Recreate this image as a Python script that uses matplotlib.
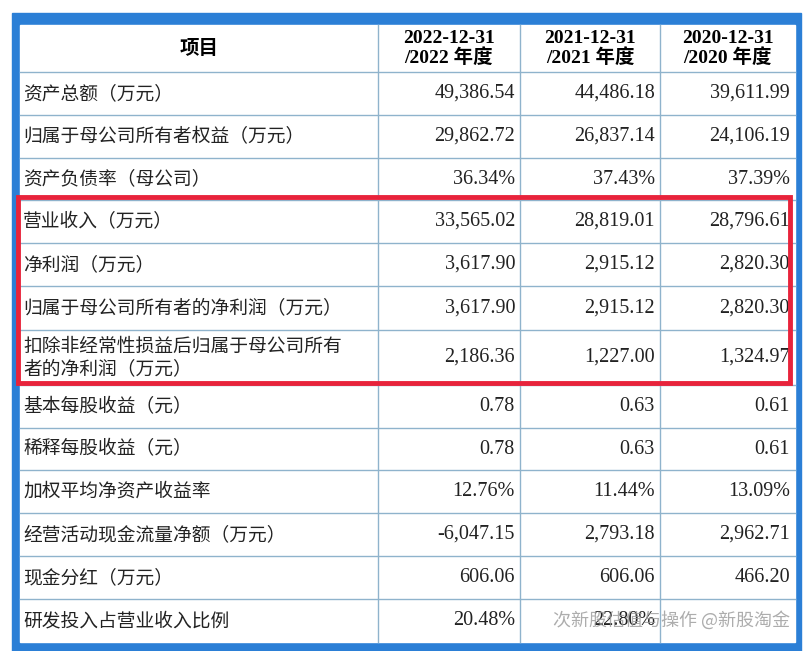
import matplotlib
matplotlib.use("Agg")
import matplotlib.pyplot as plt
from matplotlib.patches import Rectangle

header = ["项目", "2022-12-31\n/2022 年度", "2021-12-31\n/2021 年度", "2020-12-31\n/2020 年度"]
items = ["资产总额（万元）", "归属于母公司所有者权益（万元）", "资产负债率（母公司）",
         "营业收入（万元）", "净利润（万元）", "归属于母公司所有者的净利润（万元）",
         "扣除非经常性损益后归属于母公司所有\n者的净利润（万元）", "基本每股收益（元）",
         "稀释每股收益（元）", "加权平均净资产收益率", "经营活动现金流量净额（万元）",
         "现金分红（万元）", "研发投入占营业收入比例"]
v2022 = ["49,386.54", "29,862.72", "36.34%", "33,565.02", "3,617.90", "3,617.90", "2,186.36",
         "0.78", "0.78", "12.76%", "-6,047.15", "606.06", "20.48%"]
v2021 = ["44,486.18", "26,837.14", "37.43%", "28,819.01", "2,915.12", "2,915.12", "1,227.00",
         "0.63", "0.63", "11.44%", "2,793.18", "606.06", "22.80%"]
v2020 = ["39,611.99", "24,106.19", "37.39%", "28,796.61", "2,820.30", "2,820.30", "1,324.97",
         "0.61", "0.61", "13.09%", "2,962.71", "466.20", ""]

fam = ['Liberation Serif', 'Noto Sans CJK SC']
fig = plt.figure(figsize=(8.07, 6.51), dpi=100)
ax = fig.add_axes([0, 0, 1, 1])
ax.set_xlim(0, 807); ax.set_ylim(651, 0); ax.axis('off')

blue = '#2b7fd6'
ax.add_patch(Rectangle((12, 13), 789, 638, color=blue, zorder=0))
ax.add_patch(Rectangle((20, 25), 775, 617, color='white', zorder=1))

cols = [20, 378, 520, 660, 795]
rows = [25, 72, 115, 158, 200, 243, 286, 330, 385, 428, 470, 513, 556, 599, 642]
lc = '#8fb3cc'
for x in cols[1:-1]:
    ax.plot([x, x], [rows[0], rows[-1]], color=lc, lw=1, zorder=2)
for y in rows[1:-1]:
    ax.plot([cols[0], cols[-1]], [y, y], color=lc, lw=1, zorder=2)

# header
ax.text((cols[0]+cols[1])/2, (rows[0]+rows[1])/2, header[0], ha='center', va='center',
        fontsize=14, fontweight='bold', family=['Noto Sans CJK SC'], zorder=3)
for j in range(1, 4):
    ax.text((cols[j]+cols[j+1])/2, (rows[0]+rows[1])/2, header[j], ha='center', va='center',
            fontsize=14, fontweight='bold', family=fam, linespacing=1.1, zorder=3)

for i, name in enumerate(items):
    yc = (rows[i+1]+rows[i+2])/2
    ax.text(cols[0]+3, yc, name, ha='left', va='center', fontsize=13.5,
            family=['Noto Sans CJK SC'], color='#222222', linespacing=1.15, zorder=3)
    for j, vals in enumerate([v2022, v2021, v2020]):
        ax.text(cols[j+2]-5, yc, vals[i], ha='right', va='center', fontsize=14.5,
                family=fam, color='#222222', zorder=3)

ax.add_patch(Rectangle((18, 197), 772, 186, fill=False, edgecolor='#e8233b', lw=3.5, zorder=4))
ax.text(790, 620, "次新股估值与操作 @新股淘金", ha='right', va='center', fontsize=13,
        family=['Noto Sans CJK SC'], color='#999999', alpha=0.8, zorder=5)

fig.savefig("out.png", dpi=100)
